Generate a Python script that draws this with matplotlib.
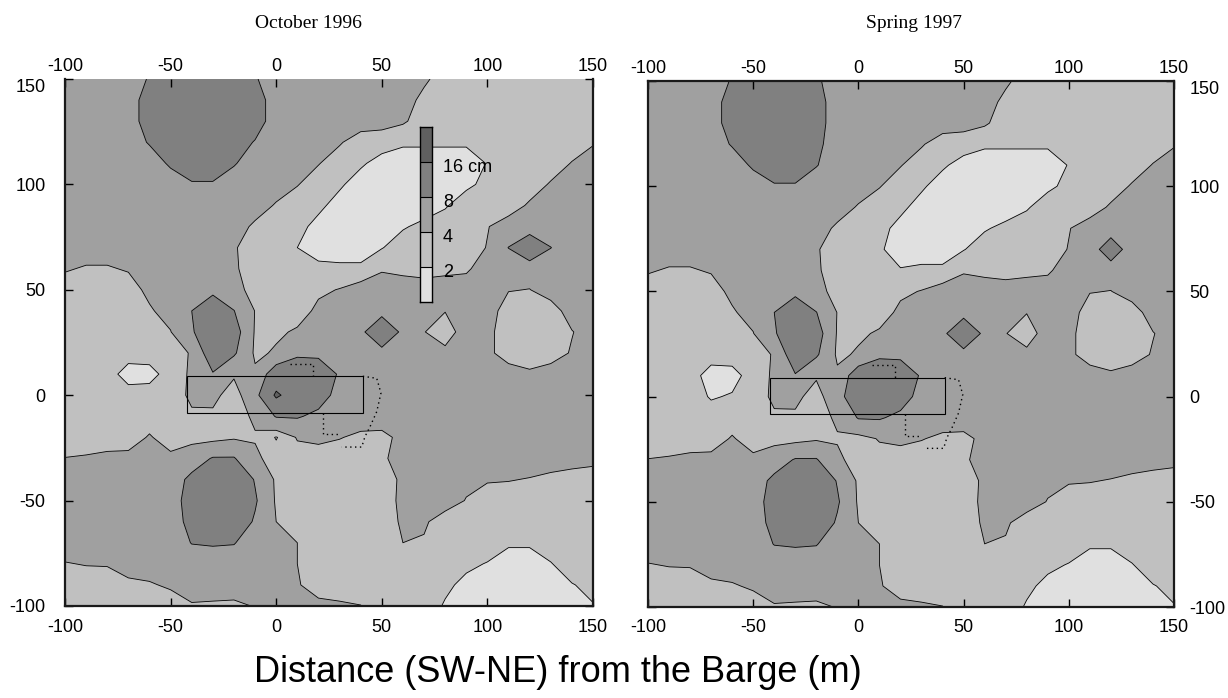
import numpy as np
import matplotlib
matplotlib.use("Agg")
import matplotlib.pyplot as plt
from matplotlib.patches import Rectangle
from matplotlib.colors import ListedColormap

plt.rcParams["font.family"] = ["Liberation Sans", "DejaVu Sans"]
plt.rcParams["axes.unicode_minus"] = False

# grid nodes (m), 10 m spacing; rows run from north (150) to south (-100)
X_M = list(range(-100, 151, 10))
Y_M = list(range(150, -101, -10))

LEVELS = [0, 2, 4, 8, 16, 40]
FILL_COLORS = ["#e0e0e0", "#c0c0c0", "#a0a0a0", "#808080", "#606060"]
BAR_LABELS = ["2", "4", "8", "16 cm"]
TICKS = [-100, -50, 0, 50, 100, 150]

# sediment thickness (cm)
OCT_1996 = [
    [5, 5, 5, 5, 8.5, 11, 11, 11, 11, 8.5, 5, 5, 5, 5, 5, 5, 5, 4.4, 3, 3, 3, 3, 3, 3, 3, 3],
    [5, 5, 5, 5, 11, 11, 11, 11, 11, 11, 5, 5, 5, 5, 5, 5, 5, 3.4, 3, 3, 3, 3, 3, 3, 3, 3],
    [5, 5, 5, 5, 11, 11, 11, 11, 11, 11, 5, 5, 5, 5, 5, 5, 4.3, 3, 3, 3, 3, 3, 3, 3, 3, 3],
    [5, 5, 5, 5, 8.5, 11, 11, 11, 11, 7.6, 5, 5, 5, 4.2, 3, 2.6, 2.3, 2.3, 2.3, 2.3, 3, 3, 3, 3, 3, 3.8],
    [5, 5, 5, 5, 5, 8.9, 11, 11, 8.5, 5, 5, 5, 4.1, 3, 2.2, 1.5, 1, 1, 1, 1, 2.1, 3, 3, 3, 4.1, 5],
    [5, 5, 5, 5, 5, 5, 7.5, 7.5, 5, 5, 5, 4.1, 3, 2.2, 1.4, 1, 1, 1, 1, 1.6, 2.5, 3, 3, 4.2, 5, 5],
    [5, 5, 5, 5, 5, 5, 5, 5, 5, 5, 3.8, 3, 2.3, 1.5, 1, 1, 1, 1, 1.8, 3, 3, 3, 4.3, 5, 5, 5],
    [5, 5, 5, 5, 5, 5, 5, 5, 5, 3.6, 3, 2.4, 1.6, 1, 1, 1, 1.8, 2.5, 3, 3, 3.9, 5, 5, 5, 5, 5],
    [5, 5, 5, 5, 5, 5, 5, 5, 4.2, 3, 2.7, 2.0, 1.3, 1, 1, 1.9, 3, 3, 3, 3, 4.1, 8.1, 13, 8.1, 5, 5],
    [4.2, 3.8, 3.8, 4.2, 5, 5, 5, 5, 4.3, 3, 3, 3, 2.4, 2.4, 2.4, 3.8, 3.5, 3.2, 3.5, 3.7, 5, 5, 5, 5, 5, 5],
    [3, 3, 3, 3, 4.6, 5, 5, 7, 5, 3, 3, 3, 3.6, 4.1, 5, 5, 5, 5, 5, 5, 5, 4.1, 3.95, 5, 5, 5],
    [3, 3, 3, 3, 3.7, 5, 8.0, 11, 8.1, 3.9, 3, 3, 4.5, 5, 5, 6.5, 5, 5, 4.1, 5, 5, 3, 3, 3, 5, 5],
    [3, 3, 3, 3, 3, 3.9, 7.6, 11, 10, 3.7, 3.6, 4.3, 5, 5, 7, 12, 7, 4.1, 2.5, 5.5, 4.5, 3, 3, 3, 3.9, 5],
    [3, 3, 3, 3, 3, 3, 4.2, 11, 8.6, 3.5, 4.3, 7, 7, 5, 5, 6.5, 5, 5, 4.8, 5, 4.5, 3, 3, 3, 4.2, 5],
    [3, 3, 3, 1.0, 1.2, 3, 4.3, 7.7, 4.3, 4.5, 11, 12, 11, 7.5, 5, 5, 5, 5, 5, 5, 5, 5, 4.3, 5, 5, 5],
    [3, 3, 3, 3, 3, 3, 4.4, 4.6, 3.0, 6, 17.2, 12, 10, 6.5, 5, 5, 5, 5, 5, 5, 5, 5, 5, 5, 5, 5],
    [3, 3, 3, 3, 3, 3, 3.7, 3.6, 3, 4.4, 8.3, 8.4, 7, 5, 5, 5, 5, 5, 5, 5, 5, 5, 5, 5, 5, 5],
    [3, 3, 3, 3, 4.2, 3, 3, 3, 3.6, 3.8, 1.85, 4.2, 4.5, 4.1, 3.6, 3.5, 4.5, 5, 5, 5, 5, 5, 5, 5, 5, 5],
    [4.05, 4.2, 4.5, 4.6, 5, 4.5, 6, 8.3, 8.3, 4.5, 3, 3, 3, 3, 3, 3.8, 4.5, 5, 5, 5, 5, 5, 5, 4.6, 4.4, 4.3],
    [5, 5, 5, 5, 5, 6, 9, 12, 12, 7.7, 3.5, 3, 3, 3, 3, 3, 4.4, 5, 5, 4.5, 4.2, 4.1, 3.9, 3.7, 3.6, 3.5],
    [5, 5, 5, 5, 5, 5, 11, 13, 12, 8.5, 3.6, 3, 3, 3, 3, 3, 4.5, 5, 5, 3.9, 3, 3, 3, 3, 3, 3],
    [5, 5, 5, 5, 5, 5, 10, 12, 11, 7.5, 4.0, 3, 3, 3, 3, 3, 4.3, 4.3, 3, 3, 3, 3, 3, 3, 3, 3],
    [5, 5, 5, 5, 5, 5, 8.2, 8.6, 8.3, 5, 4.5, 4.0, 3, 3, 3, 3, 4.0, 3.8, 3, 3, 3, 2.3, 2.3, 3, 3, 3],
    [3.9, 4.1, 4.15, 5, 5, 5, 5, 5, 5, 5, 5, 4.0, 3, 3, 3, 3, 3, 3, 3, 2.4, 1.9, 1, 1, 1.9, 3, 3],
    [3, 3, 3, 3.5, 3.8, 4.3, 5, 5, 5, 5, 5, 4.2, 3, 3, 3, 3, 3, 3, 2.4, 1.5, 1, 1, 1, 1.5, 1.9, 2.5],
    [3, 3, 3, 3, 3, 3, 3.8, 3.7, 3.6, 4.1, 5, 5, 4.6, 4.3, 4.05, 3, 3, 3, 1.8, 1, 1, 1, 1, 1, 1, 1.9],
]

# sediment thickness (cm)
SPRING_1997 = [
    [5, 5, 5, 5, 8.5, 11, 11, 11, 9.0, 5, 5, 5, 5, 5, 5, 5, 5, 4.4, 3, 3, 3, 3, 3, 3, 3, 3],
    [5, 5, 5, 5, 11, 11, 11, 11, 10.5, 5, 5, 5, 5, 5, 5, 5, 5, 3.4, 3, 3, 3, 3, 3, 3, 3, 3],
    [5, 5, 5, 5, 11, 11, 11, 11, 10.5, 5, 5, 5, 5, 5, 5, 5, 4.3, 3, 3, 3, 3, 3, 3, 3, 3, 3],
    [5, 5, 5, 5, 8.5, 11, 11, 11, 9.5, 5, 5, 5, 5, 4.2, 3, 2.6, 2.3, 2.3, 2.3, 2.3, 3, 3, 3, 3, 3, 3.8],
    [5, 5, 5, 5, 5, 8.9, 11, 11, 8.3, 5, 5, 5, 4.1, 3, 2.2, 1.5, 1, 1, 1, 1, 2.1, 3, 3, 3, 4.1, 5],
    [5, 5, 5, 5, 5, 5, 7.5, 7.5, 5, 5, 5, 4.1, 3, 2.2, 1.4, 1, 1, 1, 1, 1.6, 2.5, 3, 3, 4.2, 5, 5],
    [5, 5, 5, 5, 5, 5, 5, 5, 5, 5, 3.8, 3, 2.3, 1.5, 1, 1, 1, 1, 1.8, 3, 3, 3, 4.3, 5, 5, 5],
    [5, 5, 5, 5, 5, 5, 5, 5, 5, 3.6, 3, 2.4, 1.6, 1, 1, 1, 1.8, 2.5, 3, 3, 3.9, 5, 5, 5, 5, 5],
    [5, 5, 5, 5, 5, 5, 5, 5, 4.2, 3, 2.7, 2.2, 1.3, 1, 1, 1.9, 3, 3, 3, 3, 4.1, 5, 11.7, 5, 5, 5],
    [4.2, 3.8, 3.8, 4.2, 5, 5, 5, 5, 4.3, 3, 3, 2.6, 2.1, 2.4, 2.4, 3.8, 3.5, 3.2, 3.5, 3.7, 5, 5, 5, 5, 5, 5],
    [3, 3, 3, 3, 4.6, 5, 5, 7, 5, 3, 3, 3, 3.6, 4.1, 5, 5, 5, 5, 5, 5, 5, 4.1, 3.95, 5, 5, 5],
    [3, 3, 3, 3, 3.7, 5, 8.0, 11, 8.1, 3.9, 3, 3, 4.5, 5, 5, 6.5, 5, 5, 4.1, 5, 5, 3, 3, 3, 5, 5],
    [3, 3, 3, 3, 3, 3.9, 7.6, 11, 10, 3.7, 3.6, 4.3, 5, 5, 7, 12, 7, 4.1, 2.5, 5.5, 4.5, 3, 3, 3, 3.9, 5],
    [3, 3, 3, 3, 3, 3, 4.2, 11, 8.6, 3.5, 4.3, 7, 7, 5, 5, 6.5, 5, 5, 4.8, 5, 4.5, 3, 3, 3, 4.2, 5],
    [3, 3, 3, 1.0, 1.2, 3, 4.3, 7.7, 4.3, 4.5, 11, 12, 11, 7.5, 5, 5, 5, 5, 5, 5, 5, 5, 4.3, 5, 5, 5],
    [3, 3, 3, 1.8, 2.2, 3, 4.4, 4.6, 3.0, 6, 12, 12, 10, 6.5, 5, 5, 5, 5, 5, 5, 5, 5, 5, 5, 5, 5],
    [3, 3, 3, 3, 3, 3, 3.7, 3.6, 3, 4.4, 8.3, 8.4, 7, 5, 5, 5, 5, 5, 5, 5, 5, 5, 5, 5, 5, 5],
    [3, 3, 3, 3, 4.2, 3, 3, 3, 3.6, 3.8, 3, 4.2, 4.5, 4.1, 3.6, 3.5, 4.5, 5, 5, 5, 5, 5, 5, 5, 5, 5],
    [4.05, 4.2, 4.5, 4.6, 5, 4.5, 6, 8.3, 8.3, 4.5, 3, 3, 3, 3, 3, 3.8, 4.5, 5, 5, 5, 5, 5, 5, 4.6, 4.4, 4.3],
    [5, 5, 5, 5, 5, 6, 9, 12, 12, 7.7, 3.5, 3, 3, 3, 3, 3, 4.4, 5, 5, 4.5, 4.2, 4.1, 3.9, 3.7, 3.6, 3.5],
    [5, 5, 5, 5, 5, 5, 11, 13, 12, 8.5, 3.6, 3, 3, 3, 3, 3, 4.5, 5, 5, 3.9, 3, 3, 3, 3, 3, 3],
    [5, 5, 5, 5, 5, 5, 10, 12, 11, 7.5, 4.0, 3, 3, 3, 3, 3, 4.3, 4.3, 3, 3, 3, 3, 3, 3, 3, 3],
    [5, 5, 5, 5, 5, 5, 8.2, 8.6, 8.3, 5, 4.5, 4.0, 3, 3, 3, 3, 4.0, 3.8, 3, 3, 3, 2.3, 2.3, 3, 3, 3],
    [3.9, 4.1, 4.15, 5, 5, 5, 5, 5, 5, 5, 5, 4.0, 3, 3, 3, 3, 3, 3, 3, 2.4, 1.9, 1, 1, 1.9, 3, 3],
    [3, 3, 3, 3.5, 3.8, 4.3, 5, 5, 5, 5, 5, 4.2, 3, 3, 3, 3, 3, 3, 2.4, 1.5, 1, 1, 1, 1.5, 1.9, 2.5],
    [3, 3, 3, 3, 3, 3, 3.8, 3.7, 3.6, 4.1, 5, 5, 4.6, 4.3, 4.05, 3, 3, 3, 1.8, 1, 1, 1, 1, 1, 1, 1.9],
]

# barge outline and the dotted outline next to it (m)
BARGE_X0, BARGE_X1 = -42, 41
BARGE_Y0, BARGE_Y1 = -8.5, 9
DOT_TOP_X = [6.5, 17.6, 17.6]
DOT_TOP_Y = [15, 15, 9]
DOT_EAST_X = [41, 47.6, 49.6, 47.6, 44.4, 42, 40.5, 31]
DOT_EAST_Y = [9, 8, 1, -7.8, -15, -19.7, -24.6, -24.6]
DOT_IN_X = [22.3, 22.3, 29.4]
DOT_IN_Y = [-8.5, -18.5, -18.5]


def draw_map(ax, grid):
    z = np.array(grid, dtype=float)
    ax.contourf(X_M, Y_M, z, levels=LEVELS, colors=FILL_COLORS, antialiased=True)
    ax.contour(X_M, Y_M, z, levels=LEVELS[1:-1], colors="black", linewidths=0.6)
    ax.add_patch(Rectangle((BARGE_X0, BARGE_Y0), BARGE_X1 - BARGE_X0,
                           BARGE_Y1 - BARGE_Y0, fill=False, ec="black", lw=0.8))
    for xs, ys in [(DOT_TOP_X, DOT_TOP_Y), (DOT_EAST_X, DOT_EAST_Y), (DOT_IN_X, DOT_IN_Y)]:
        ax.plot(xs, ys, color="black", lw=1.0, ls=(0, (1, 2.5)))
    ax.set_xlim(-100, 150)
    ax.set_ylim(-100, 150)
    ax.set_xticks(TICKS)
    ax.set_yticks(TICKS)
    ax.tick_params(direction="in", length=6, width=1, labelsize=13,
                   top=True, right=True, bottom=True, left=True)
    ax.tick_params(axis="x", pad=9)
    for s in ax.spines.values():
        s.set_linewidth(1.6)
        s.set_color("#1a1a1a")
    # tick labels along the top edge
    sec = ax.secondary_xaxis("top")
    sec.set_xticks(TICKS)
    sec.tick_params(direction="in", length=0, labelsize=13, pad=3)
    for s in sec.spines.values():
        s.set_visible(False)


fig = plt.figure(figsize=(12.28, 6.98), dpi=100)

ax1 = fig.add_axes([65 / 1228, 92 / 698, 528 / 1228, 527 / 698])
draw_map(ax1, OCT_1996)
ax1.spines["top"].set_visible(False)
ax1.tick_params(axis="y", labelleft=True, labelright=False, pad=14)

ax2 = fig.add_axes([648 / 1228, 91 / 698, 526 / 1228, 526 / 698])
draw_map(ax2, SPRING_1997)
ax2.tick_params(axis="y", labelleft=False, labelright=True, pad=11)

# the top y label sits just below its tick, as in the original
for ax in (ax1, ax2):
    tk = ax.yaxis.get_major_ticks()[-1]
    tk.label1.set_va("top")
    tk.label2.set_va("top")

# small legend bar inside the October map
cax = fig.add_axes([420 / 1228, (698 - 302) / 698, 12 / 1228, 175 / 698])
cax.imshow(np.arange(len(FILL_COLORS)).reshape(-1, 1), cmap=ListedColormap(FILL_COLORS),
           origin="lower", aspect="auto", extent=[0, 1, 0, len(FILL_COLORS)])
cax.hlines(range(1, len(FILL_COLORS)), 0, 1, color="black", lw=0.8)
cax.set_xlim(0, 1)
cax.set_ylim(0, len(FILL_COLORS))
cax.set_xticks([])
cax.set_yticks([])
for s in cax.spines.values():
    s.set_linewidth(1.0)
for i, lab in enumerate(BAR_LABELS):
    cax.text(1.9, i + 1 - 0.15, lab, ha="left", va="center", fontsize=13, clip_on=False)

fig.text(308 / 1228, 1 - 23 / 698, "October 1996", family="Liberation Serif",
         fontsize=14, ha="center", va="center")
fig.text(914 / 1228, 1 - 23 / 698, "Spring 1997", family="Liberation Serif",
         fontsize=14, ha="center", va="center")
fig.text(558 / 1228, 1 - 672 / 698, "Distance (SW-NE) from the Barge (m)",
         fontsize=26, ha="center", va="center")

fig.savefig("out.png", dpi=100)
